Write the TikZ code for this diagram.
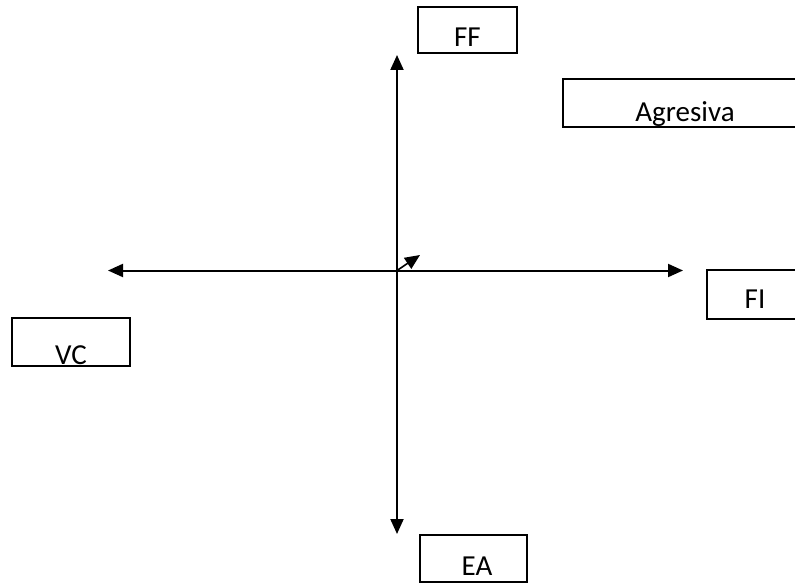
\documentclass[tikz,border=0pt]{standalone}
\usepackage{fontspec}
\setmainfont{Carlito}
\usetikzlibrary{arrows.meta}
\begin{document}
\begin{tikzpicture}[x=1pt,y=-1pt,
  axis/.style={line width=2pt,-{Triangle[length=15pt,width=13pt]}},
  box/.style={draw,line width=1.4pt,rectangle,inner sep=0pt},
  lbl/.style={anchor=base,inner sep=0pt,font=\fontsize{29}{34}\selectfont}]
  \useasboundingbox (0,0) rectangle (795,586);

  % axis end points
  \coordinate (o) at (397,270.5);
  \coordinate (top) at (397,55);
  \coordinate (bot) at (397,534);
  \coordinate (lft) at (108,270.5);
  \coordinate (rgt) at (683,270.5);
  \coordinate (diag) at (420,255);

  \draw[axis] (o) -- (top);
  \draw[axis] (o) -- (bot);
  \draw[axis] (o) -- (lft);
  \draw[axis] (o) -- (rgt);
  \draw[line width=1.6pt,-{Triangle[length=15pt,width=13pt]}] (o) -- (diag);

  % labelled boxes
  \node[box,minimum width=99pt,minimum height=46pt] (ffbox) at (467.5,30) {};
  \node[lbl] (ff) at (467.5,47) {FF};

  \node[box,minimum width=244pt,minimum height=48pt] (agbox) at (685,103) {};
  \begin{scope}
    \clip (563,79) rectangle (807,127);
    \node[lbl] (ag) at (685,121) {Agresiva};
  \end{scope}

  \node[box,minimum width=96pt,minimum height=49pt] (fibox) at (755,294.5) {};
  \node[lbl] (fi) at (755,308) {FI};

  \node[box,minimum width=118pt,minimum height=48pt] (vcbox) at (71,342) {};
  \node[lbl] (vc) at (71,364) {VC};

  \node[box,minimum width=107pt,minimum height=47pt] (eabox) at (473.5,558.5) {};
  \node[lbl] (ea) at (477,575) {EA};
\end{tikzpicture}
\end{document}
